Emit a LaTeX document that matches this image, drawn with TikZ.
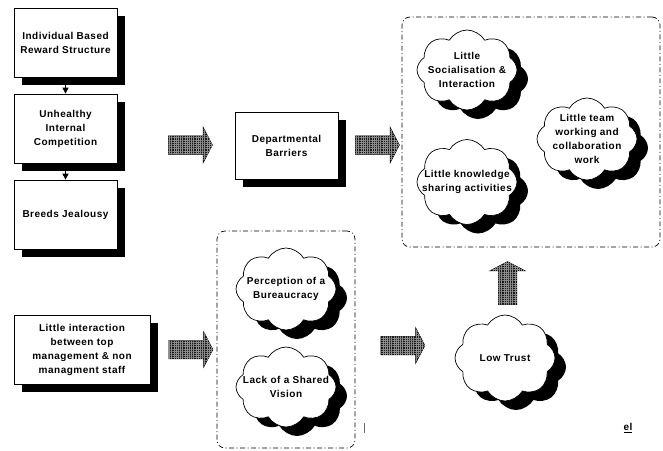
\documentclass[tikz,border=0pt]{standalone}
\usepackage{fontspec}
\setmainfont{Liberation Sans}
\newfontfamily\labelfont[LetterSpace=5]{Liberation Sans}
\usepackage{tikz}
\usetikzlibrary{positioning,shapes.symbols,shapes.arrows,shadows,patterns.meta,arrows.meta}

\begin{document}
\begin{tikzpicture}[%
            x=1pt, y=-1pt,
            every node/.style={font=\labelfont\bfseries\fontsize{10}{14}\selectfont, align=center},
            blackshadow/.style={drop shadow={shadow xshift=8pt, shadow yshift=-8pt, fill=black, opacity=1}},
            causebox/.style={rectangle, draw, line width=0.7pt, fill=white, blackshadow, minimum width=103pt, inner sep=2pt},
            issue/.style={cloud, cloud puffs=8, cloud puff arc=120, shape border rotate=22.5, cloud ignores aspect, draw, line width=0.7pt, fill=white, drop shadow={shadow xshift=11pt, shadow yshift=-9pt, fill=black, opacity=1}, minimum width=100pt, minimum height=82pt, inner sep=0pt},
            groupbox/.style={rectangle, rounded corners=8pt, draw, line width=0.7pt, dash pattern=on 5pt off 2.5pt on 1pt off 2.5pt},
            bigarrow/.style={single arrow, draw, line width=0.5pt, fill=black!90, postaction={pattern={Hatch[angle=0,distance=2.2pt,line width=0.4pt]}, pattern color=black!45}, inner sep=9pt, single arrow head extend=8.5pt, single arrow tip angle=125, minimum height=44pt},
            link/.style={-{Triangle[width=6pt,length=6pt]}, line width=0.7pt}
        ]
        \useasboundingbox (0,0) rectangle (663,450);

        % Dashed groups
        \node[groupbox, minimum width=258pt, minimum height=230pt] (effects) at (531,132) {};
        \node[groupbox, minimum width=138pt, minimum height=217pt] (perceptions) at (286,339.5) {};

        % Causes on the left
        \node[causebox, minimum height=69pt] (reward) at (65.5,42.5) {Individual Based\\Reward Structure};
        \node[causebox, minimum height=69pt] (competition) at (65.5,128.5) {Unhealthy\\Internal\\Competition};
        \node[causebox, minimum height=69pt] (jealousy) at (65.5,214.5) {Breeds Jealousy};
        \node[causebox, minimum width=136pt, minimum height=69pt] (interaction) at (82,349.5) {Little interaction\\between top\\management \& non\\managment staff};

        \draw[link] (reward) -- (competition);
        \draw[link] (competition) -- (jealousy);

        % Middle box
        \node[causebox, minimum height=67pt] (barriers) at (286.5,145.5) {Departmental\\Barriers};

        % Clouds
        \node[issue, minimum height=80pt, label={center:Little\\Socialisation \&\\Interaction}] (socialisation) at (467,70) {};
        \node[issue, label={center:Little team\\working and\\collaboration\\work}] (teamwork) at (587,139) {};
        \node[issue, minimum height=85pt, label={center:Little knowledge\\sharing activities}] (knowledge) at (467,182) {};
        \node[issue, label={center:Perception of a\\Bureaucracy}] (bureaucracy) at (286,289) {};
        \node[issue, minimum height=80pt, label={center:Lack of a Shared\\Vision}] (vision) at (286,387) {};
        \node[issue, minimum height=86pt, label={center:Low Trust}] (trust) at (505,358) {};

        % Block arrows
        \node[bigarrow] (toBarriers) at (188,145) {};
        \node[bigarrow] (toEffects) at (375,145) {};
        \node[bigarrow] (toPerceptions) at (188.5,349.5) {};
        \node[bigarrow] (toTrust) at (400.5,345.5) {};
        \node[bigarrow, shape border rotate=90, minimum height=43pt] (trustUp) at (507.5,285.5) {};

        % Odds and ends
        \coordinate (mark) at (364,428);
        \draw[black!60, line width=0.5pt] ([yshift=5pt]mark) -- ([yshift=-5pt]mark);
        \node (footnote) at (628,428) {\underline{el}};

        \end{tikzpicture}
\end{document}
